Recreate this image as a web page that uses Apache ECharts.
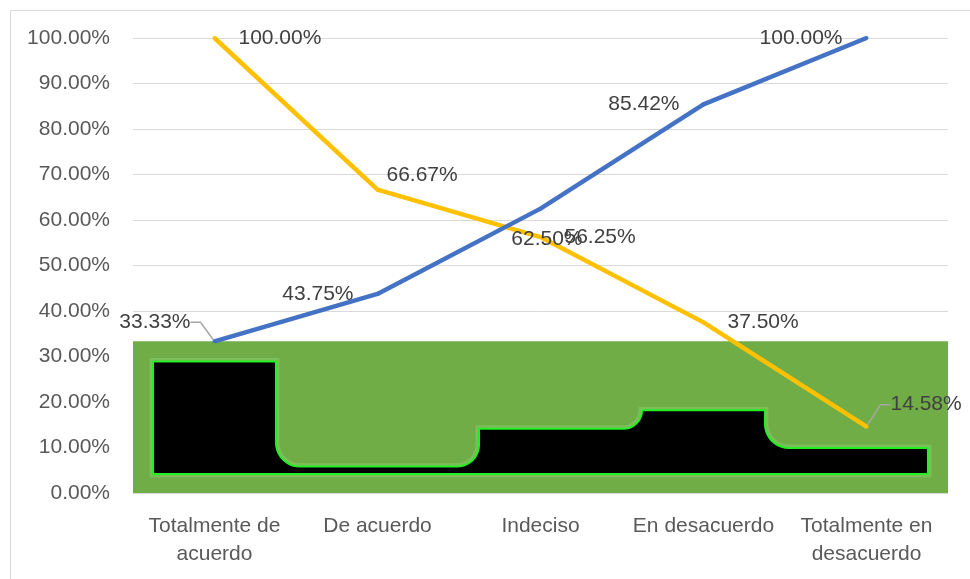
<!DOCTYPE html>
<html>
<head>
<meta charset="utf-8">
<script src="https://cdn.jsdelivr.net/npm/echarts@6/dist/echarts.min.js"></script>
<style>
html,body{margin:0;padding:0;background:#fff;}
#chart{width:970px;height:579px;}
</style>
</head>
<body>
<div id="chart"></div>
<script>
const categories = ['Totalmente de\nacuerdo', 'De acuerdo', 'Indeciso', 'En desacuerdo', 'Totalmente en\ndesacuerdo'];
const blueValues = [33.33, 43.75, 62.50, 85.42, 100.00];
const yellowValues = [100.00, 66.67, 56.25, 37.50, 14.58];
const barTops = [28.9, 5.8, 14.1, 18.2, 9.9];
const barBase = 4.2;
const greenTop = 33.33;
const yTicks = [0, 10, 20, 30, 40, 50, 60, 70, 80, 90, 100];

const FONT = 'Liberation Sans';
const chart = echarts.init(document.getElementById('chart'));

function shapeRender(params, api) {
  if (params.dataIndex !== 0) return null;
  const n = barTops.length;
  const bw = api.size([1, 0])[0];
  const inset = bw * 0.123;
  const baseY = api.coord([0, barBase])[1];
  const cs = barTops.map((t, i) => api.coord([i, t]));
  const pts = [];
  const x0 = cs[0][0] - bw / 2 + inset;
  pts.push([x0, baseY]);
  pts.push([x0, cs[0][1]]);
  for (let i = 0; i < n - 1; i++) {
    const yi = cs[i][1], yj = cs[i + 1][1];
    const B = cs[i][0] + bw / 2;
    if (yi < yj) {
      // going down on screen
      const xv = B - inset;
      const R = Math.min(24, yj - yi);
      pts.push([xv, yi]);
      const cx = xv + R, cy = yj - R;
      for (let k = 0; k <= 10; k++) {
        const th = Math.PI - (Math.PI / 2) * k / 10;
        pts.push([cx + R * Math.cos(th), cy + R * Math.sin(th)]);
      }
    } else {
      const xv = B + inset;
      const R = Math.min(22, yi - yj);
      const cx = xv - R, cy = yi - R;
      for (let k = 0; k <= 10; k++) {
        const th = Math.PI / 2 - (Math.PI / 2) * k / 10;
        pts.push([cx + R * Math.cos(th), cy + R * Math.sin(th)]);
      }
      pts.push([xv, yj]);
    }
  }
  const xe = cs[n - 1][0] + bw / 2 - inset;
  pts.push([xe, cs[n - 1][1]]);
  pts.push([xe, baseY]);
  return {
    type: 'group',
    children: [
      { type: 'polygon', shape: { points: pts }, style: { fill: '#000000', stroke: '#8fd070', lineWidth: 7, opacity: 0.45 } },
      { type: 'polygon', shape: { points: pts }, style: { fill: '#000000', stroke: '#22f022', lineWidth: 2 } }
    ]
  };
}

const labelBase = { show: true, fontFamily: FONT, fontSize: 21, color: '#404040', formatter: p => p.value.toFixed(2) + '%' };
const leader = { show: true, length2: 10, lineStyle: { color: '#a6a6a6', width: 1.5 } };

const option = {
  animation: false,
  backgroundColor: '#ffffff',
  graphic: [{
    type: 'rect', shape: { x: 10.5, y: 10.5, width: 980, height: 600 },
    style: { fill: 'none', stroke: '#d9d9d9', lineWidth: 1 }, silent: true, z: -1
  }],
  grid: { left: 133, right: 22, top: 38, bottom: 86 },
  xAxis: {
    type: 'category',
    data: categories,
    boundaryGap: true,
    axisLine: { show: true, lineStyle: { color: '#d9d9d9', width: 1 } },
    axisTick: { show: false },
    axisLabel: { fontFamily: FONT, fontSize: 21, color: '#595959', margin: 19, lineHeight: 28, interval: 0 }
  },
  yAxis: {
    type: 'value', min: 0, max: 100, interval: 10,
    axisLine: { show: false }, axisTick: { show: false },
    splitLine: { lineStyle: { color: '#d9d9d9', width: 1 } },
    axisLabel: { fontFamily: FONT, fontSize: 21, color: '#595959', margin: 23,
      formatter: v => yTicks.indexOf(v) >= 0 ? v.toFixed(2) + '%' : '' }
  },
  series: [
    {
      type: 'line', data: [], z: 1, silent: true,
      markArea: { silent: true, itemStyle: { color: '#70AD47', opacity: 1 }, data: [[{ yAxis: 0 }, { yAxis: greenTop }]] }
    },
    {
      type: 'custom', z: 2, silent: true,
      renderItem: shapeRender,
      data: barTops.map((v, i) => [i, v])
    },
    {
      type: 'line', z: 4,
      data: blueValues.map((v, i) => i === 0 ? { value: v, labelLine: leader } : v),
      symbol: 'circle', symbolSize: 4, itemStyle: { color: '#4472C4' },
      lineStyle: { color: '#4472C4', width: 4.5 },
      label: Object.assign({}, labelBase, { position: 'left', distance: 22 }),
      labelLine: { show: false },
      labelLayout: function (p) {
        if (p.dataIndex === 0) return { dx: 0, dy: -19 };
        if (p.dataIndex === 2) return { dx: 66, dy: 31 };
        return {};
      }
    },
    {
      type: 'line', z: 3,
      data: yellowValues.map((v, i) => i === 4 ? { value: v, labelLine: leader } : v),
      symbol: 'circle', symbolSize: 4, itemStyle: { color: '#FFC000' },
      lineStyle: { color: '#FFC000', width: 4.5 },
      label: Object.assign({}, labelBase, { position: 'right', distance: 22 }),
      labelLine: { show: false },
      labelLayout: function (p) {
        if (p.dataIndex === 1) return { dx: -15, dy: -14 };
        if (p.dataIndex === 4) return { dx: 0, dy: -22 };
        return {};
      }
    }
  ]
};
chart.setOption(option);
</script>
</body>
</html>
